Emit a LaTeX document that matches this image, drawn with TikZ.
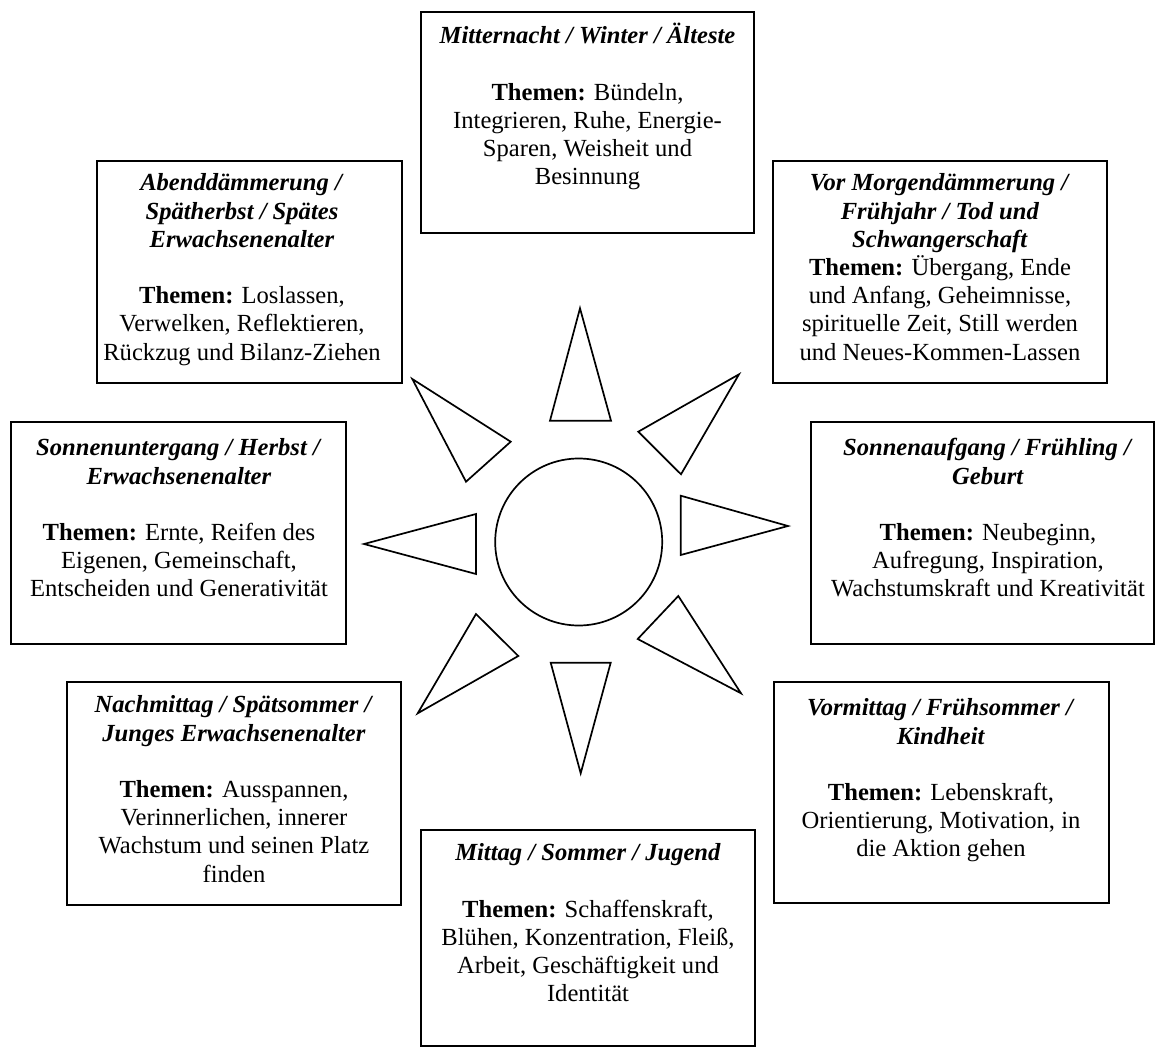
\documentclass[tikz,border=0pt]{standalone}
\usepackage{fontspec}
\setmainfont{Liberation Serif}
\begin{document}
\begin{tikzpicture}[x=0.5pt,y=-0.5pt,
  panel/.style={draw, line width=0.85pt, anchor=north west, inner sep=0pt, outer sep=0pt},
  caption/.style={align=center, anchor=north, inner sep=0pt,
    font=\fontsize{12.3}{14.1}\selectfont},
  ray/.style={draw, line width=0.85pt, line join=miter}]
\useasboundingbox (0,0) rectangle (1156,1048);
\newcommand{\hd}[1]{\rule{0pt}{11pt}\textbf{\textit{#1}}}
\newcommand{\gap}{\\[14.1pt]}

% frames of the eight phases
\node[panel, minimum width=166.5pt, minimum height=110.5pt] (mitternacht) at (421,12) {};
\node[panel, minimum width=152.5pt, minimum height=111pt]   (abend)       at (97,161) {};
\node[panel, minimum width=167pt,   minimum height=111pt]   (vormorgen)   at (773,161) {};
\node[panel, minimum width=167.5pt, minimum height=111pt]   (untergang)   at (11,422) {};
\node[panel, minimum width=171.5pt, minimum height=111pt]   (aufgang)     at (811,422) {};
\node[panel, minimum width=167pt,   minimum height=111.5pt] (nachmittag)  at (67,682) {};
\node[panel, minimum width=167.5pt, minimum height=110.5pt] (vormittag)   at (774,682) {};
\node[panel, minimum width=167pt,   minimum height=108pt]   (mittag)      at (421,830) {};

% texts
\node[caption] (mitternacht-t) at (587.5,21.4) {\hd{Mitternacht / Winter / Älteste}\gap
  \textbf{Themen:} Bündeln,\\ Integrieren, Ruhe, Energie-\\ Sparen, Weisheit und\\ Besinnung};
\node[caption] (abend-t) at (242,168.4) {\hd{Abenddämmerung /}\\ \textbf{\textit{Spätherbst / Spätes}}\\
  \textbf{\textit{Erwachsenenalter}}\gap
  \textbf{Themen:} Loslassen,\\ Verwelken, Reflektieren,\\ Rückzug und Bilanz-Ziehen};
\node[caption] (vormorgen-t) at (940,168.4) {\hd{Vor Morgendämmerung /}\\ \textbf{\textit{Frühjahr / Tod und}}\\
  \textbf{\textit{Schwangerschaft}}\\
  \textbf{Themen:} Übergang, Ende\\ und Anfang, Geheimnisse,\\ spirituelle Zeit, Still werden\\ und Neues-Kommen-Lassen};
\node[caption] (untergang-t) at (179,433.4) {\hd{Sonnenuntergang / Herbst /}\\ \textbf{\textit{Erwachsenenalter}}\gap
  \textbf{Themen:} Ernte, Reifen des\\ Eigenen, Gemeinschaft,\\ Entscheiden und Generativität};
\node[caption] (aufgang-t) at (988,433.4) {\hd{Sonnenaufgang / Frühling /}\\ \textbf{\textit{Geburt}}\gap
  \textbf{Themen:} Neubeginn,\\ Aufregung, Inspiration,\\ Wachstumskraft und Kreativität};
\node[caption] (nachmittag-t) at (234,690.4) {\hd{Nachmittag / Spätsommer /}\\ \textbf{\textit{Junges Erwachsenenalter}}\gap
  \textbf{Themen:} Ausspannen,\\ Verinnerlichen, innerer\\ Wachstum und seinen Platz\\ finden};
\node[caption] (vormittag-t) at (941,693.4) {\hd{Vormittag / Frühsommer /}\\ \textbf{\textit{Kindheit}}\gap
  \textbf{Themen:} Lebenskraft,\\ Orientierung, Motivation, in\\ die Aktion gehen};
\node[caption] (mittag-t) at (588,838.4) {\hd{Mittag / Sommer / Jugend}\gap
  \textbf{Themen:} Schaffenskraft,\\ Blühen, Konzentration, Fleiß,\\ Arbeit, Geschäftigkeit und\\ Identität};

% the sun
\node[draw, circle, line width=0.85pt, minimum size=83.5pt, inner sep=0pt] (sun) at (578.7,542) {};
\draw[ray] (580,308.3) -- (611,420.7) -- (550,420.7) -- cycle;
\draw[ray] (739,374.3) -- (681,474.3) -- (638.3,431.7) -- cycle;
\draw[ray] (788,526) -- (680.7,555) -- (680.7,495.7) -- cycle;
\draw[ray] (741,693.3) -- (637.7,639) -- (678.3,596) -- cycle;
\draw[ray] (580.7,773.3) -- (550.7,662.7) -- (610.7,662.7) -- cycle;
\draw[ray] (417.7,713.3) -- (476,614) -- (518.3,656) -- cycle;
\draw[ray] (364,544) -- (476,514) -- (476,574) -- cycle;
\draw[ray] (412.3,379) -- (510.7,441.7) -- (466,481.7) -- cycle;
\end{tikzpicture}
\end{document}
